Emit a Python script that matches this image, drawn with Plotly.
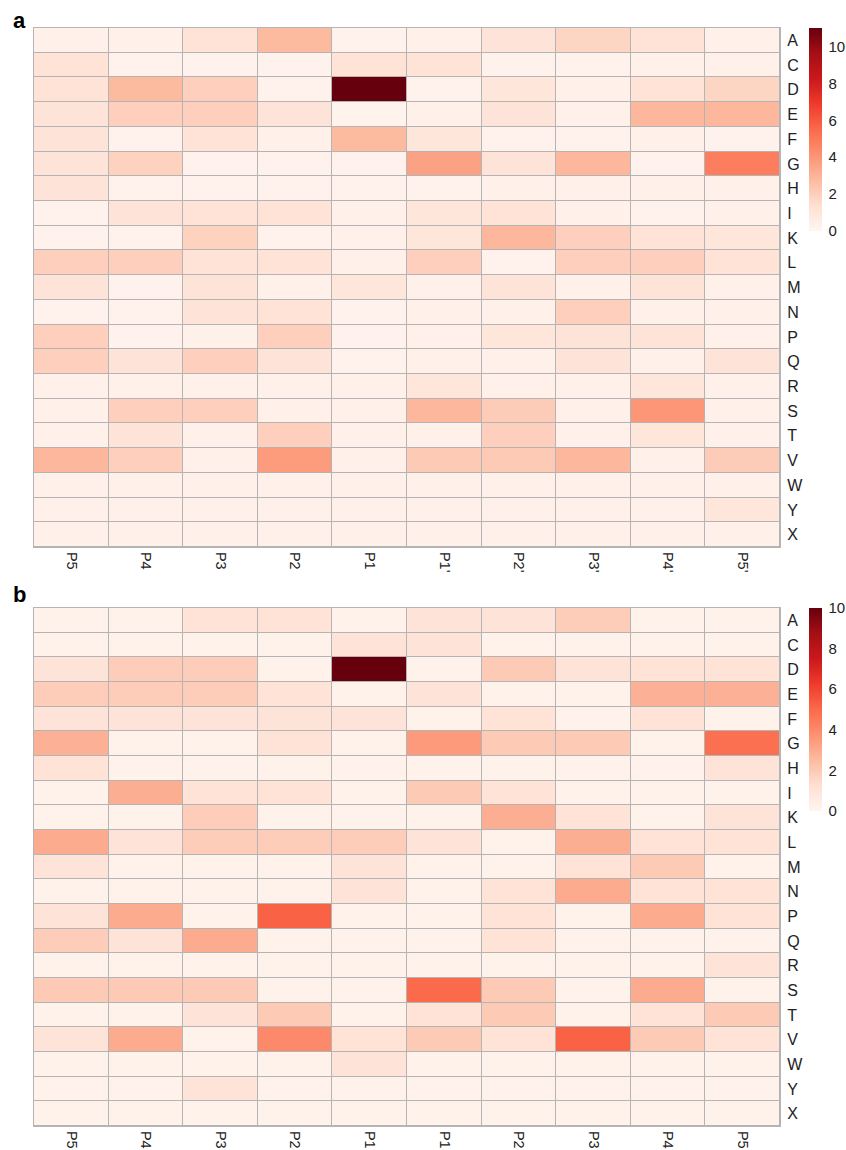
import plotly.graph_objects as go

residues = ["A", "C", "D", "E", "F", "G", "H", "I", "K", "L", "M",
            "N", "P", "Q", "R", "S", "T", "V", "W", "Y", "X"]
positions_a = ["P5", "P4", "P3", "P2", "P1", "P1'", "P2'", "P3'", "P4'", "P5'"]
positions_b = ["P5", "P4", "P3", "P2", "P1", "P1", "P2", "P3", "P4", "P5"]

# Residue frequency per site (rows = residues, columns = positions P5..P5')
freq_a = [
    [0.3, 0.3, 1.2, 2.8, 0.2, 0.3, 1.1, 1.8, 1.2, 0.3],   # A
    [1.2, 0.2, 0.2, 0.2, 1.2, 1.2, 0.2, 0.2, 0.3, 0.3],   # C
    [1.2, 2.8, 2.0, 0.2, 11.0, 0.2, 1.0, 0.3, 1.2, 1.8],  # D
    [1.1, 2.0, 2.0, 1.1, 0.1, 0.3, 1.1, 0.3, 2.9, 2.9],   # E
    [1.1, 0.2, 1.2, 0.3, 2.8, 1.0, 0.2, 0.2, 0.3, 0.2],   # F
    [1.1, 1.9, 0.2, 0.2, 0.2, 3.6, 1.1, 2.9, 0.2, 4.8],   # G
    [1.1, 0.2, 0.2, 0.2, 0.2, 0.2, 0.3, 0.3, 0.3, 0.3],   # H
    [0.2, 1.1, 1.2, 1.2, 0.3, 1.0, 1.2, 0.3, 0.2, 0.3],   # I
    [0.2, 0.2, 1.9, 0.2, 0.3, 1.0, 2.9, 2.0, 1.2, 1.0],   # K
    [2.0, 2.0, 1.2, 1.2, 0.3, 2.0, 0.2, 2.0, 2.0, 1.2],   # L
    [1.1, 0.2, 1.1, 0.3, 1.0, 0.3, 1.1, 0.3, 1.1, 0.3],   # M
    [0.2, 0.2, 1.1, 1.2, 0.2, 0.3, 0.3, 2.0, 0.3, 0.3],   # N
    [2.0, 0.2, 0.3, 2.0, 0.2, 0.3, 1.0, 1.1, 1.1, 0.3],   # P
    [2.0, 1.1, 2.0, 1.1, 0.2, 0.3, 0.3, 1.1, 0.3, 1.1],   # Q
    [0.3, 0.3, 0.3, 0.3, 0.3, 1.0, 0.3, 0.3, 1.0, 0.3],   # R
    [0.3, 2.0, 2.0, 0.3, 0.3, 2.9, 2.1, 0.3, 4.0, 0.3],   # S
    [0.3, 1.1, 0.3, 2.0, 0.3, 0.3, 2.0, 0.3, 1.0, 0.3],   # T
    [2.9, 2.0, 0.3, 3.8, 0.3, 2.2, 2.2, 2.9, 0.3, 2.1],   # V
    [0.3, 0.3, 0.3, 0.3, 0.3, 0.3, 0.3, 0.3, 0.3, 0.3],   # W
    [0.3, 0.3, 0.3, 0.3, 0.3, 0.3, 0.3, 0.3, 0.3, 1.0],   # Y
    [0.3, 0.3, 0.3, 0.3, 0.3, 0.3, 0.3, 0.3, 0.3, 0.3],   # X
]

freq_b = [
    [0.2, 0.2, 1.1, 1.1, 0.2, 1.0, 1.0, 1.9, 0.2, 0.2],   # A
    [0.2, 0.2, 0.2, 0.2, 1.0, 1.0, 0.2, 0.2, 0.2, 0.2],   # C
    [1.0, 1.9, 1.9, 0.2, 10.0, 0.2, 2.0, 1.0, 1.1, 1.1],  # D
    [1.9, 1.9, 1.9, 1.1, 0.2, 1.0, 0.2, 0.2, 2.8, 2.8],   # E
    [1.0, 1.0, 1.0, 1.0, 1.0, 0.2, 1.1, 0.2, 1.1, 0.2],   # F
    [2.8, 0.2, 0.2, 1.1, 0.2, 3.5, 2.0, 2.0, 0.2, 4.8],   # G
    [1.1, 0.2, 0.2, 0.2, 0.2, 0.2, 0.2, 0.2, 0.2, 1.0],   # H
    [0.2, 2.9, 1.1, 1.1, 0.2, 2.0, 1.1, 0.2, 0.2, 0.2],   # I
    [0.2, 0.2, 1.9, 0.2, 0.2, 0.2, 2.9, 1.1, 0.2, 1.0],   # K
    [3.0, 1.0, 1.9, 1.9, 1.9, 1.0, 0.2, 2.9, 1.1, 1.1],   # L
    [1.0, 0.2, 0.2, 0.2, 1.0, 0.2, 0.2, 1.1, 2.0, 0.2],   # M
    [0.2, 0.2, 0.2, 0.2, 1.0, 0.2, 1.1, 3.0, 1.1, 1.1],   # N
    [1.0, 3.0, 0.2, 5.2, 0.2, 0.2, 1.1, 0.2, 3.0, 1.1],   # P
    [1.9, 1.0, 3.0, 0.2, 0.2, 0.2, 1.1, 0.2, 0.2, 0.2],   # Q
    [0.2, 0.2, 0.2, 0.2, 0.2, 0.2, 0.2, 0.2, 0.2, 1.0],   # R
    [2.0, 2.0, 2.0, 0.2, 0.2, 5.0, 2.0, 0.2, 3.0, 0.2],   # S
    [0.2, 0.2, 1.0, 2.0, 0.2, 1.1, 2.0, 0.2, 1.1, 2.0],   # T
    [1.0, 3.0, 0.2, 4.0, 1.1, 2.0, 1.1, 5.2, 2.0, 1.1],   # V
    [0.2, 0.2, 0.2, 0.2, 1.0, 0.2, 0.2, 0.2, 0.2, 0.2],   # W
    [0.2, 0.2, 1.0, 0.2, 0.2, 0.2, 0.2, 0.2, 0.2, 0.2],   # Y
    [0.2, 0.2, 0.2, 0.2, 0.2, 0.2, 0.2, 0.2, 0.2, 0.2],   # X
]

W, H = 846, 1150
ML, MR, MT, MB = 34, 66, 28, 24
plot_h = H - MT - MB
plot_w = W - ML - MR
panel_h = 519
top_a = 1.0
bot_a = 1.0 - panel_h / plot_h
top_b = 1.0 - (608 - MT) / plot_h
bot_b = 0.0

FONT = "Arial, Liberation Sans, sans-serif"
GRID = "#b4b4b4"
cb_x = (809 - ML) / plot_w

fig = go.Figure()

for idx, (z, zmax, labels, ytop) in enumerate([
        (freq_a, 11.0, positions_a, top_a),
        (freq_b, 10.0, positions_b, top_b)]):
    n = idx + 1
    fig.add_trace(go.Heatmap(
        z=z,
        x=list(range(len(labels))),
        y=residues,
        zmin=0, zmax=zmax,
        colorscale="Reds",
        xgap=1, ygap=1,
        xaxis="x" if n == 1 else "x2",
        yaxis="y" if n == 1 else "y2",
        colorbar=dict(
            x=cb_x, xanchor="left",
            y=ytop, yanchor="top",
            len=203, lenmode="pixels",
            thickness=13, thicknessmode="pixels",
            outlinewidth=0,
            tickvals=[0, 2, 4, 6, 8, 10],
            ticks="outside", ticklen=4, tickcolor="rgba(0,0,0,0)",
            tickfont=dict(family=FONT, size=15, color="#222"),
            xpad=0, ypad=0,
        ),
    ))

axis_common = dict(showgrid=False, zeroline=False, showline=True,
                   linecolor=GRID, linewidth=1, mirror=True, automargin=False,
                   ticks="outside", tickcolor="rgba(0,0,0,0)")

xtick_font = dict(family=FONT, size=14.5, color="#222")
ytick_font = dict(family=FONT, size=16, color="#222")

fig.update_layout(
    width=W, height=H,
    margin=dict(l=ML, r=MR, t=MT, b=MB, autoexpand=False),
    paper_bgcolor="white",
    plot_bgcolor=GRID,
    xaxis=dict(domain=[0, 1], anchor="y", tickmode="array",
               tickvals=list(range(10)), ticktext=positions_a,
               tickangle=90, range=[-0.5, 9.5], tickfont=xtick_font,
               ticklen=1, **axis_common),
    yaxis=dict(domain=[bot_a, top_a], anchor="x", side="right",
               autorange="reversed", type="category", tickfont=ytick_font,
               ticklen=3, **axis_common),
    xaxis2=dict(domain=[0, 1], anchor="y2", tickmode="array",
                tickvals=list(range(10)), ticktext=positions_b,
                tickangle=90, range=[-0.5, 9.5], tickfont=xtick_font,
                ticklen=1, **axis_common),
    yaxis2=dict(domain=[bot_b, top_b], anchor="x2", side="right",
                autorange="reversed", type="category", tickfont=ytick_font,
                ticklen=3, **axis_common),
    annotations=[
        dict(text="<b>a</b>", xref="paper", yref="paper",
             x=-23 / plot_w, y=top_a + 8 / plot_h, xanchor="left", yanchor="middle",
             showarrow=False, font=dict(family=FONT, size=22, color="black")),
        dict(text="<b>b</b>", xref="paper", yref="paper",
             x=-23 / plot_w, y=top_b + 14 / plot_h, xanchor="left", yanchor="middle",
             showarrow=False, font=dict(family=FONT, size=22, color="black")),
    ],
)

fig.write_html("out.html")
